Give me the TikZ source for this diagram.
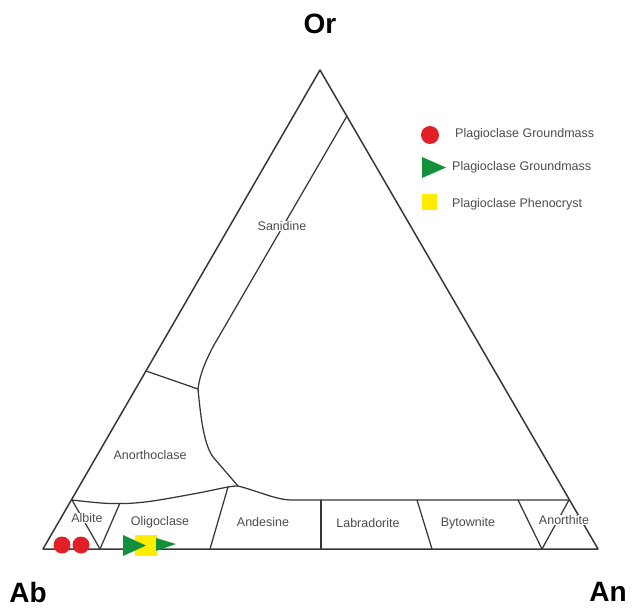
\documentclass[tikz,border=0pt]{standalone}
\usepackage{fontspec}
\setmainfont{Liberation Sans}
\definecolor{ptred}{RGB}{226,30,38}
\definecolor{ptgreen}{RGB}{18,145,58}
\definecolor{ptyellow}{RGB}{255,236,0}
\definecolor{linegray}{RGB}{55,55,55}
\begin{document}
\begin{tikzpicture}[x=1pt,y=-1pt,
  bnd/.style={draw=linegray, line width=1.25pt, line join=round, line cap=round},
  edge/.style={draw=linegray, line width=1.5pt, line join=round},
  lbl/.style={font=\fontsize{12.5}{14}\selectfont, text=black!70, fill=white, inner sep=0.8pt},
  leg/.style={font=\fontsize{12.5}{14}\selectfont, text=black!70, anchor=west, inner sep=0pt},
  corner/.style={font=\fontsize{28}{30}\selectfont\bfseries, text=black, inner sep=0pt},
  redpt/.style={fill=ptred, draw=none},
  greenpt/.style={fill=ptgreen, draw=none},
  yellowpt/.style={fill=ptyellow, draw=none}]
\useasboundingbox (0,0) rectangle (643,615);
% corners
\coordinate (Ab) at (43,549);
\coordinate (Or) at (320,70);
\coordinate (An) at (598,549);
% boundary points
\coordinate (S1) at (347,116);
\coordinate (S2) at (214,345);
\coordinate (J1) at (198,389);
\coordinate (L1) at (146,371);
\coordinate (J2) at (238,486);
\coordinate (J3) at (72,500);
\coordinate (R1) at (569,500);
\coordinate (H1) at (292,500);
\coordinate (AlB) at (100,549);
\coordinate (AlT) at (120,503);
\coordinate (OlT) at (228,487);
\coordinate (OlB) at (210,549);
\coordinate (LaT) at (321,500);
\coordinate (LaB) at (321,549);
\coordinate (ByT) at (417,500);
\coordinate (ByB) at (432,549);
\coordinate (AnT) at (518,500);
\coordinate (AnB) at (542,549);
% outer triangle
\draw[edge] (Ab) -- (Or) -- (An) -- cycle;
% sanidine boundary
\draw[bnd] (S1) -- (S2) .. controls (205,362) and (200,374) .. (J1);
\draw[bnd] (L1) -- (J1);
\draw[bnd] (J1) .. controls (201,420) and (204,444) .. (213,457) -- (J2);
\draw[bnd] (J2) .. controls (258,491) and (276,500) .. (H1) -- (R1);
\draw[bnd] plot[smooth, tension=0.6] coordinates {(J3) (110,503.5) (145,502) (193,494) (OlT) (J2)};
% bottom strip divisions
\draw[bnd] (J3) -- (AlB) -- (AlT);
\draw[bnd] (OlT) -- (OlB);
\draw[bnd] (LaT) -- (LaB);
\draw[bnd] (ByT) -- (ByB);
\draw[bnd] (AnT) -- (AnB) -- (R1);
% labels
\node[lbl] (san) at (282,226) {Sanidine};
\node[lbl] (ano) at (150,455) {Anorthoclase};
\node[lbl] (alb) at (87,518) {Albite};
\node[lbl] (oli) at (160,522) {Oligoclase};
\node[lbl] (and) at (263,522) {Andesine};
\node[lbl] (lab) at (368,523) {Labradorite};
\node[lbl] (byt) at (468,523) {Bytownite};
\node[lbl] (ant) at (564,520) {Anorthite};
% corner labels
\node[corner] (tOr) at (320,24) {Or};
\node[corner] (tAb) at (28,592) {Ab};
\node[corner] (tAn) at (608,592) {An};
% data points
\fill[redpt] (62,545) circle (8.5);
\fill[redpt] (81,545) circle (8.5);
\fill[yellowpt] (135,535) rectangle (157,556);
\fill[greenpt] (123,535) -- (146,545.5) -- (123,556) -- cycle;
\fill[greenpt] (156,538) -- (176,544) -- (156,551) -- cycle;
% legend
\fill[redpt] (430,135) circle (9);
\node[leg] (l1) at (455,134) {Plagioclase Groundmass};
\fill[greenpt] (422,157) -- (446,167.5) -- (422,178) -- cycle;
\node[leg] (l2) at (452,167) {Plagioclase Groundmass};
\fill[yellowpt] (422,194) rectangle (437,210);
\node[leg] (l3) at (452,204) {Plagioclase Phenocryst};
\end{tikzpicture}
\end{document}
